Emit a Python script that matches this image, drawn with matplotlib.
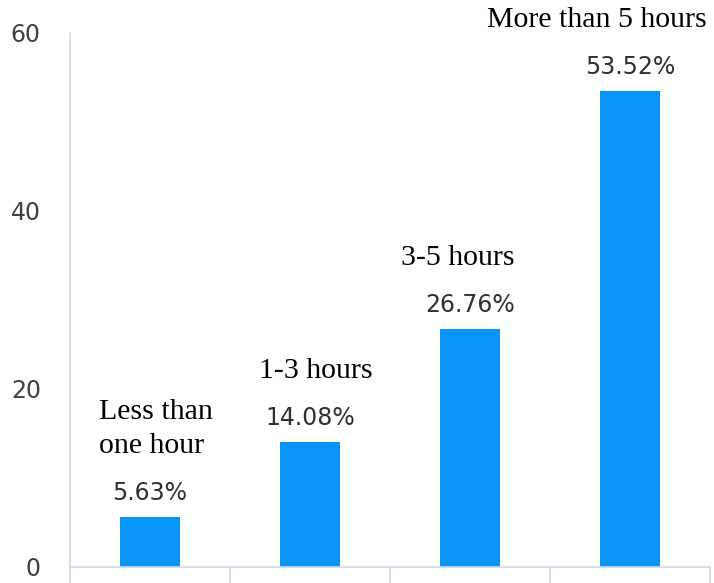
import matplotlib.pyplot as plt

categories = ["Less than\none hour", "1-3 hours", "3-5 hours", "More than 5 hours"]
values = [5.63, 14.08, 26.76, 53.52]
pct_labels = ["5.63%", "14.08%", "26.76%", "53.52%"]
y_ticks = [0, 20, 40, 60]

bar_color = "#0994f7"
axis_color = "#cdd8e6"
# small horizontal nudges for the category names (points)
name_shift = [4, 4, -9, -24]

fig = plt.figure(figsize=(7.14, 5.83), dpi=100)
ax = fig.add_axes([70 / 714, 16 / 583, 640 / 714, 534 / 583])

x = range(len(values))
ax.bar(x, values, width=0.37, color=bar_color)

ax.set_xlim(-0.5, len(values) - 0.5)
ax.set_ylim(0, 60)
ax.set_yticks(y_ticks)
ax.tick_params(axis="y", length=0, pad=21, labelsize=17, labelcolor="#404040")

ax.set_xticks([])
ax.set_xticks([i - 0.5 for i in range(len(values) + 1)], minor=True)
ax.tick_params(axis="x", which="minor", length=12, width=1.2, color=axis_color,
               labelbottom=False)

for s in ["top", "right"]:
    ax.spines[s].set_visible(False)
for s in ["left", "bottom"]:
    ax.spines[s].set_color(axis_color)
    ax.spines[s].set_linewidth(1.2)

# percent labels above bars, category names above those
for i, v in enumerate(values):
    ax.annotate(pct_labels[i], (i, v), xytext=(0, 12), textcoords="offset points",
                ha="center", va="baseline", fontsize=17, color="#303030")
    ax.annotate(categories[i], (i, v), xytext=(name_shift[i], 46),
                textcoords="offset points", ha="center", va="baseline",
                multialignment="left", fontsize=21.5, family="Liberation Serif",
                color="black", linespacing=1.4, annotation_clip=False)

fig.savefig("out.png", dpi=100)
